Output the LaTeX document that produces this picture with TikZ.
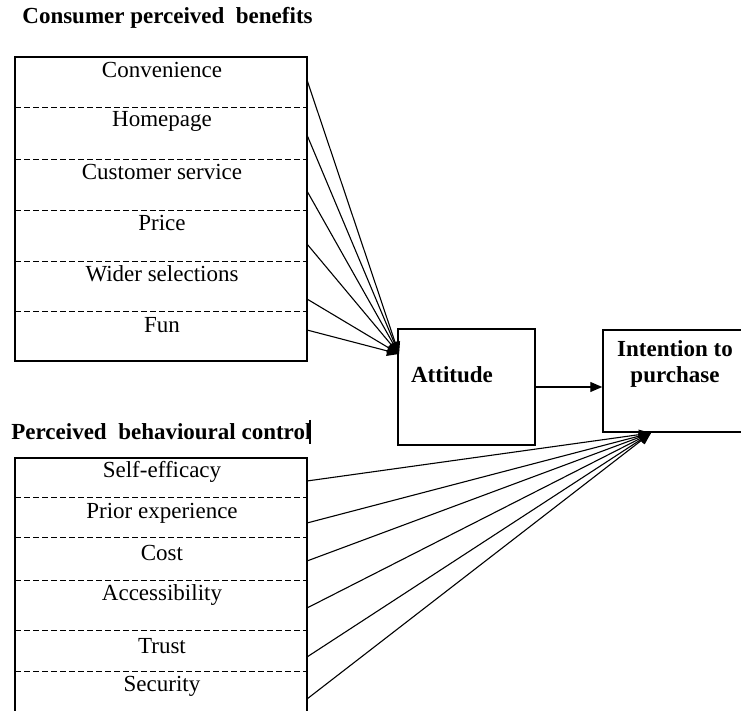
\documentclass[tikz,border=0pt]{standalone}
\usepackage{fontspec}
\setmainfont{Liberation Serif}
\usetikzlibrary{arrows.meta}

\tikzset{
  item/.style={font=\fontsize{11.5}{13}\selectfont, inner sep=0pt},
  heading/.style={font=\fontsize{11.5}{13}\selectfont\bfseries, inner sep=0pt},
  frame/.style={draw, line width=0.75pt, inner sep=0pt},
  cellsep/.style={line width=0.5pt, dash pattern=on 3pt off 1.5pt},
  link/.style={->, line width=0.55pt}
}

\begin{document}
\begin{tikzpicture}[x=0.5pt, y=-0.5pt, >={Triangle[length=6pt,width=5pt]}]
    \clip (0,0) rectangle (741,711);

    \node[heading, anchor=west] (cpb) at (22,18) {Consumer perceived\ \ benefits};
    \node[heading, anchor=west] (pbc) at (11,432) {Perceived\ \ behavioural control};
    \draw[line width=1.4pt] (310,420) -- (310,444);

    \node[frame, minimum width=146pt, minimum height=152pt] (benefits) at (161,209) {};
    \node[frame, minimum width=146pt, minimum height=131pt] (control) at (161,589) {};
    \node[frame, minimum width=68.5pt, minimum height=58pt] (att) at (466.5,387) {};
    \node[frame, minimum width=72pt, minimum height=51pt] (intent) at (675,381) {};

    \draw[cellsep] (15,108) -- (307,108);
    \draw[cellsep] (15,160) -- (307,160);
    \draw[cellsep] (15,211) -- (307,211);
    \draw[cellsep] (15,262) -- (307,262);
    \draw[cellsep] (15,312) -- (307,312);

    \draw[cellsep] (15,498) -- (307,498);
    \draw[cellsep] (15,538) -- (307,538);
    \draw[cellsep] (15,581) -- (307,581);
    \draw[cellsep] (15,631) -- (307,631);
    \draw[cellsep] (15,672) -- (307,672);

    \node[item] (conv) at (162,70) {Convenience};
    \node[item] (home) at (162,121) {Homepage};
    \node[item] (cserv) at (162,172) {Customer service};
    \node[item] (price) at (162,223) {Price};
    \node[item] (wider) at (162,274) {Wider selections};
    \node[item] (fun) at (162,325) {Fun};

    \node[item] (selfeff) at (162,472) {Self-efficacy};
    \node[item] (prior) at (162,513) {Prior experience};
    \node[item] (cost) at (162,553) {Cost};
    \node[item] (access) at (162,595) {Accessibility};
    \node[item] (trust) at (162,646) {Trust};
    \node[item] (secur) at (162,686) {Security};

    \node[heading] (attlabel) at (452,375) {Attitude};
    \node[heading, align=center] (intlabel) at (675,364) {Intention to\\purchase};

    \coordinate (conv-out) at (307,80);
    \coordinate (home-out) at (307,135);
    \coordinate (cserv-out) at (307,191);
    \coordinate (price-out) at (307,244);
    \coordinate (wider-out) at (307,299);
    \coordinate (fun-out) at (307,330);
    \coordinate (att-in) at (399,354);

    \coordinate (selfeff-out) at (307,481);
    \coordinate (prior-out) at (307,523);
    \coordinate (cost-out) at (307,561);
    \coordinate (access-out) at (307,608);
    \coordinate (trust-out) at (307,657);
    \coordinate (secur-out) at (307,699);
    \coordinate (intent-in) at (651,433);

    \draw[link] (conv-out) -- (att-in);
    \draw[link] (home-out) -- (att-in);
    \draw[link] (cserv-out) -- (att-in);
    \draw[link] (price-out) -- (att-in);
    \draw[link] (wider-out) -- (att-in);
    \draw[link] (fun-out) -- (att-in);

    \draw[link] (selfeff-out) -- (intent-in);
    \draw[link] (prior-out) -- (intent-in);
    \draw[link] (cost-out) -- (intent-in);
    \draw[link] (access-out) -- (intent-in);
    \draw[link] (trust-out) -- (intent-in);
    \draw[link] (secur-out) -- (intent-in);

    \draw[link] (att.east |- 0,387) -- (intent.west |- 0,387);
\end{tikzpicture}
\end{document}
